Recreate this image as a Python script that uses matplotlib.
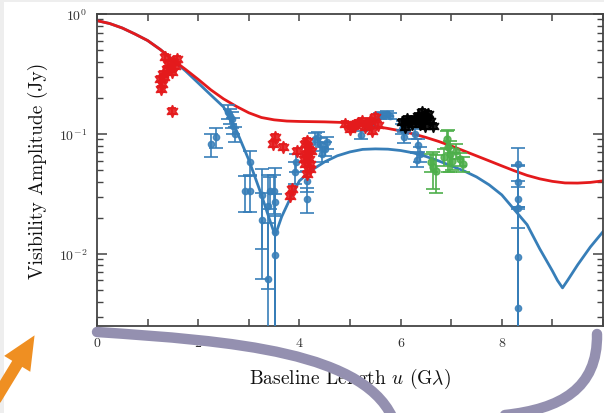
import numpy as np
import matplotlib
matplotlib.use('Agg')
import matplotlib.pyplot as plt
from matplotlib.path import Path
from matplotlib.patches import PathPatch, Rectangle, FancyArrowPatch
from matplotlib.ticker import FixedLocator, LogLocator, NullFormatter, FixedFormatter

plt.rcParams['font.family'] = 'serif'
plt.rcParams['font.serif'] = ['cmr10', 'DejaVu Serif']
plt.rcParams['mathtext.fontset'] = 'cm'
plt.rcParams['axes.unicode_minus'] = False
plt.rcParams['axes.formatter.use_mathtext'] = True

# ---------------- data ----------------
# model curves
red_u = [0, 0.25, 0.5, 0.75, 1, 1.25, 1.5, 1.75, 2, 2.25, 2.5, 2.75, 3, 3.25, 3.5, 3.75, 4,
         4.5, 5, 5.25, 5.5, 5.75, 6, 6.25, 6.5, 6.75, 7, 7.25, 7.5, 7.75, 8, 8.25, 8.5, 8.75,
         9, 9.25, 9.5, 9.75, 10]
red_v = [0.880, 0.833, 0.764, 0.681, 0.601, 0.506, 0.414, 0.345, 0.285, 0.233, 0.196, 0.170,
         0.150, 0.137, 0.131, 0.128, 0.127, 0.126, 0.124, 0.120, 0.1155, 0.111, 0.106, 0.100,
         0.0935, 0.0866, 0.0794, 0.0722, 0.0656, 0.0596, 0.0541, 0.0492, 0.0451, 0.0422,
         0.0402, 0.0390, 0.0389, 0.0394, 0.0406]

blue_u = [0, 0.25, 0.5, 0.75, 1, 1.25, 1.5, 1.75, 2, 2.25, 2.5, 2.75, 3, 3.25, 3.4, 3.52,
          3.65, 3.75, 3.85, 4, 4.25, 4.5, 4.75, 5, 5.25, 5.5, 5.75, 6, 6.25, 6.5, 6.75, 7,
          7.25, 7.5, 7.75, 8, 8.25, 8.5, 8.75, 9, 9.1, 9.2, 9.3, 9.5, 9.75, 10]
blue_v = [0.880, 0.833, 0.764, 0.681, 0.601, 0.506, 0.412, 0.335, 0.266, 0.211, 0.168, 0.108,
          0.0607, 0.031, 0.0199, 0.0142, 0.0204, 0.0251, 0.031, 0.0406, 0.0501, 0.0585,
          0.0657, 0.0708, 0.0743, 0.075, 0.0746, 0.0727, 0.0695, 0.0649, 0.0596, 0.0541,
          0.0492, 0.0438, 0.0376, 0.031, 0.0233, 0.0175, 0.011, 0.0072, 0.006, 0.0052,
          0.006, 0.0081, 0.0114, 0.0153]

# blue measurements (u in G-lambda, amplitude in Jy, 1-sigma error in Jy)
blue_pts_u = [2.25, 2.35, 2.59, 2.63, 2.67, 2.69, 2.73, 3.02, 2.92, 3.02,
              3.26, 3.26, 3.38, 3.38, 3.50, 3.52, 3.52, 3.52, 3.42,
              3.91, 3.93, 4.15, 4.15,
              4.31, 4.41, 4.50, 4.45, 4.36, 4.55,
              5.22, 5.34, 5.40, 5.59, 5.73, 5.79, 5.66,
              6.03, 6.07, 6.28, 6.34, 6.38, 6.32, 6.05,
              8.32, 8.32, 8.32, 8.32, 8.32, 8.32]
blue_pts_v = [0.0825, 0.0944, 0.153, 0.141, 0.133, 0.117, 0.100, 0.0585, 0.0335, 0.0335,
              0.031, 0.0192, 0.0251, 0.0062, 0.0335, 0.0271, 0.0153, 0.0098, 0.0335,
              0.048, 0.058, 0.0287, 0.0406,
              0.0908, 0.0825, 0.075, 0.068, 0.0944, 0.085,
              0.098, 0.117, 0.122, 0.141, 0.147, 0.141, 0.145,
              0.110, 0.0944, 0.100, 0.0808, 0.0681, 0.0608, 0.118,
              0.0562, 0.0398, 0.0284, 0.0242, 0.0094, 0.0035]
blue_pts_e = [0.018, 0.018, 0.020, 0.020, 0.020, 0.018, 0.015, 0.013, 0.011, 0.011,
              0.020, 0.013, 0.020, 0.012, 0.012, 0.025, 0.016, 0.011, 0.010,
              0.010, 0.010, 0.007, 0.008,
              0.010, 0.010, 0.010, 0.010, 0.010, 0.010,
              0.007, 0.007, 0.007, 0.007, 0.007, 0.007, 0.007,
              0.010, 0.010, 0.010, 0.010, 0.010, 0.008, 0.010,
              0.020, 0.015, 0.012, 0.030, 0.015, 0.020]

red_pts_u = [1.34, 1.50, 1.54, 1.38, 1.30, 1.48, 1.25, 1.28, 1.26, 1.48, 1.58, 1.40, 1.33, 1.45,
             3.52, 3.48, 3.68, 3.95, 3.85, 3.81,
             4.11, 4.17, 4.13, 4.19, 4.11, 4.21, 4.15, 4.09, 4.23, 4.15, 4.20,
             4.90, 5.04, 5.16, 5.30, 5.40, 5.49, 5.55, 5.43, 5.24, 5.00, 5.35, 5.10]
red_pts_v = [0.438, 0.398, 0.369, 0.348, 0.316, 0.329, 0.287, 0.261, 0.237, 0.155, 0.420, 0.380,
             0.300, 0.350,
             0.0944, 0.0825, 0.0779, 0.0722, 0.0348, 0.0304,
             0.0825, 0.075, 0.068, 0.0619, 0.0562, 0.051, 0.0464, 0.0619, 0.0722, 0.088, 0.0562,
             0.121, 0.117, 0.123, 0.114, 0.128, 0.139, 0.119, 0.106, 0.128, 0.110, 0.121, 0.119]

black_pts_u = [6.03, 6.09, 6.13, 6.23, 6.28, 6.34, 6.38, 6.42, 6.48, 6.50, 6.54, 6.58, 6.64,
               6.45, 6.36, 6.20]
black_pts_v = [0.126, 0.114, 0.133, 0.121, 0.133, 0.141, 0.121, 0.153, 0.117, 0.139, 0.147,
               0.128, 0.117, 0.135, 0.128, 0.128]

green_pts_u = [6.64, 6.70, 6.92, 6.94, 6.98, 7.02, 7.09, 7.17, 7.23, 6.86, 6.60]
green_pts_v = [0.053, 0.0492, 0.0908, 0.078, 0.068, 0.0596, 0.0722, 0.0619, 0.0562, 0.0643, 0.058]
green_pts_e = [0.018, 0.017, 0.015, 0.030, 0.020, 0.010, 0.010, 0.008, 0.008, 0.010, 0.010]

x_ticks = [0, 1, 2, 3, 4, 5, 6, 7, 8, 9, 10]
x_tick_labels = ['0', '', '2', '', '4', '', '6', '', '8', '', '']

C_RED = '#e41a1c'
C_BLUE = '#377eb8'
C_GREEN = '#4daf4a'

# ---------------- figure ----------------
W, H = 604, 414
fig = plt.figure(figsize=(W / 100, H / 100), dpi=100)
fig.patch.set_facecolor('white')
# light grey page border of the screenshot
fig.patches.append(Rectangle((0, 0), 4 / W, 1, transform=fig.transFigure,
                             facecolor='#eeeeee', edgecolor='none', zorder=0))
fig.patches.append(Rectangle((0, 1 - 3 / H), 1, 3 / H, transform=fig.transFigure,
                             facecolor='#eeeeee', edgecolor='none', zorder=0))

ax = fig.add_axes([97 / W, 1 - 327 / H, (603 - 97) / W, (327 - 15) / H])
ax.set_yscale('log')
ax.set_xlim(0, 10)
ax.set_ylim(0.0025, 1.0)

ax.plot(blue_u, blue_v, color=C_BLUE, lw=2.0, zorder=2)
ax.plot(red_u, red_v, color=C_RED, lw=2.0, zorder=2)

bv = np.array(blue_pts_v)
be = np.array(blue_pts_e)
lower = np.minimum(be, bv - 1e-4)
ax.errorbar(blue_pts_u, bv, yerr=[lower, be], fmt='o', color=C_BLUE, ms=4.5,
            elinewidth=1.4, capsize=5, capthick=1.4, alpha=0.85, zorder=3)

ax.errorbar(green_pts_u, green_pts_v, yerr=green_pts_e, fmt='o', color=C_GREEN, ms=5,
            elinewidth=1.4, capsize=5, capthick=1.4, alpha=0.85, zorder=3)

star = (6, 1, 0)
rv = np.array(red_pts_v)
ax.errorbar(red_pts_u, rv, yerr=0.06 * rv, fmt='none', ecolor=C_RED,
            elinewidth=1.4, capsize=3, capthick=1.4, alpha=0.9, zorder=4)
ax.plot(red_pts_u, rv, ls='none', marker=star, ms=9, color=C_RED, mec=C_RED,
        alpha=0.9, zorder=4)
kv = np.array(black_pts_v)
ax.errorbar(black_pts_u, kv, yerr=0.06 * kv, fmt='none', ecolor='black',
            elinewidth=1.4, capsize=3, capthick=1.4, alpha=0.9, zorder=4)
ax.plot(black_pts_u, kv, ls='none', marker=star, ms=9, color='black', alpha=0.9, zorder=4)

# axes styling
for s in ax.spines.values():
    s.set_color('#444444')
    s.set_linewidth(1.3)
ax.xaxis.set_major_locator(FixedLocator(x_ticks))
ax.xaxis.set_major_formatter(FixedFormatter(x_tick_labels))
ax.yaxis.set_major_locator(LogLocator(base=10, numticks=10))
ax.yaxis.set_minor_locator(LogLocator(base=10, subs=np.arange(2, 10), numticks=20))
ax.yaxis.set_minor_formatter(NullFormatter())
ax.tick_params(which='both', direction='in', top=True, right=True, colors='#444444',
               labelcolor='#333333', labelsize=10)
ax.tick_params(axis='x', which='major', length=5, width=1.1, pad=8)
ax.tick_params(axis='y', which='major', length=7, width=1.1, pad=7)
ax.tick_params(axis='y', which='minor', length=4, width=1.0)

ax.set_xlabel(r'Baseline Length $u$ (G$\lambda$)', fontsize=14, color='#111111')
ax.set_ylabel('Visibility Amplitude (Jy)', fontsize=14, color='#111111')
ax.xaxis.set_label_coords(0.5, -0.128)
ax.yaxis.set_label_coords(-0.097, 0.5)

# ---------------- overlay annotations (screen-capture marks) ----------------
def fp(x, y):
    return (x / W, 1 - y / H)

purple = '#9490b0'
p1 = Path([fp(97, 333), fp(230, 342), fp(370, 352), fp(395, 425)],
          [Path.MOVETO, Path.CURVE4, Path.CURVE4, Path.CURVE4])
p2 = Path([fp(597, 335), fp(598, 390), fp(560, 410), fp(505, 416)],
          [Path.MOVETO, Path.CURVE4, Path.CURVE4, Path.CURVE4])
for p in (p1, p2):
    fig.patches.append(PathPatch(p, transform=fig.transFigure, fill=False,
                                 edgecolor=purple, lw=7.5, capstyle='round', zorder=10))

arrow = FancyArrowPatch(fp(-6, 403), fp(36, 334), transform=fig.transFigure,
                        arrowstyle='simple,head_length=1.2,head_width=1.1,tail_width=0.42',
                        mutation_scale=20, color='#ef8f22', lw=0, zorder=10)
fig.patches.append(arrow)

fig.savefig('out.png', dpi=100)
